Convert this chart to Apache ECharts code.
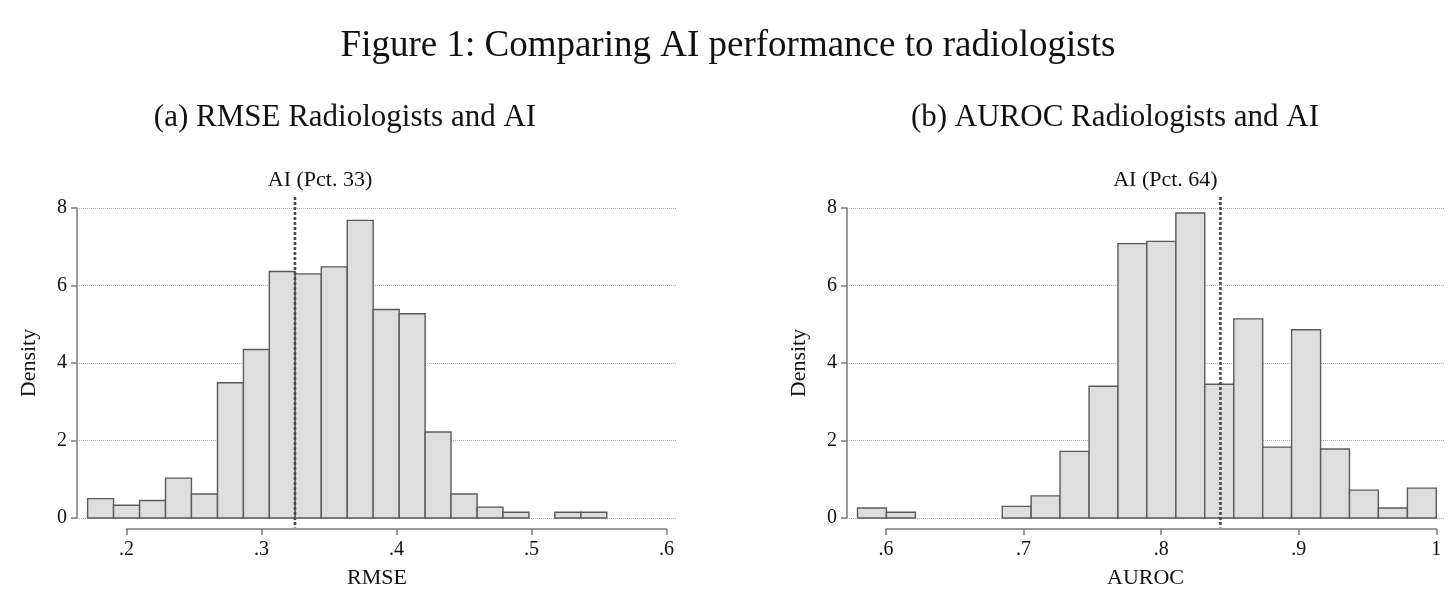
<!DOCTYPE html>
<html>
<head>
<meta charset="utf-8">
<title>Figure 1</title>
<script src="https://cdn.jsdelivr.net/npm/echarts@6/dist/echarts.min.js"></script>
<style>
  html, body { margin: 0; padding: 0; background: #fff; }
  #chart { width: 1456px; height: 606px; }
</style>
</head>
<body>
<div id="chart"></div>
<script>
// histogram bins (edges, then density per bin)
const rmseEdges = [0.1712, 0.1904, 0.2097, 0.2289, 0.2481, 0.2674, 0.2866, 0.3058, 0.3250, 0.3443,
                   0.3635, 0.3827, 0.4020, 0.4212, 0.4404, 0.4597, 0.4789, 0.4981, 0.5173, 0.5366, 0.5558];
const rmseDensity = [0.50, 0.33, 0.45, 1.03, 0.62, 3.49, 4.35, 6.36, 6.30, 6.48,
                     7.68, 5.38, 5.27, 2.22, 0.62, 0.28, 0.15, 0, 0.15, 0.15];

const aurocEdges = [0.5793, 0.6003, 0.6214, 0.6424, 0.6634, 0.6845, 0.7055, 0.7265, 0.7476, 0.7686,
                    0.7896, 0.8107, 0.8317, 0.8528, 0.8738, 0.8948, 0.9159, 0.9369, 0.9579, 0.9790, 1.0000];
const aurocDensity = [0.26, 0.15, 0, 0, 0, 0.30, 0.57, 1.72, 3.40, 7.08,
                      7.14, 7.87, 3.45, 5.14, 1.83, 4.86, 1.78, 0.72, 0.26, 0.77];

// where the AI model sits
const aiRmse = 0.3248;
const aiAuroc = 0.8431;
const aiRmseLabel = 'AI (Pct. 33)';
const aiAurocLabel = 'AI (Pct. 64)';

const serif = '"Liberation Serif", "Times New Roman", serif';
const ink = '#111';
const axisGrey = '#7b7b7b';

function toBins(edges, dens) {
    return dens.map((d, i) => [edges[i], edges[i + 1], d]);
}

function renderBar(params, api) {
    const h = api.value(2);
    if (!h) return null;
    const p0 = api.coord([api.value(0), h]);
    const p1 = api.coord([api.value(1), 0]);
    return {
        type: 'rect',
        shape: { x: p0[0], y: p0[1], width: p1[0] - p0[0], height: p1[1] - p0[1] },
        style: { fill: '#dedede', stroke: '#5a5a5a', lineWidth: 1.4 }
    };
}

function aiMarker(text, dx) {
    return function (params, api) {
        const x = api.value(0);
        const top = api.coord([x, 8]);
        const bottom = api.coord([x, 0]);
        return {
            type: 'group',
            children: [
                {
                    type: 'line',
                    shape: { x1: top[0], y1: top[1] - 11, x2: top[0], y2: bottom[1] + 9.5 },
                    style: { stroke: '#4a4a4a', lineWidth: 2.6, lineDash: [3, 2] }
                },
                {
                    type: 'text',
                    x: top[0] + dx,
                    y: top[1] - 28,
                    style: {
                        text: text, font: '22px ' + serif, fill: ink,
                        align: 'center', verticalAlign: 'middle',
                        textAlign: 'center', textVerticalAlign: 'middle'
                    }
                }
            ]
        };
    };
}

function tickFmt(v) {
    return v === 1 ? '1' : String(+v.toFixed(2)).replace(/^0/, '');
}

// y axis with dotted grid, shared look for both panels
function densityAxis(gridIndex) {
    return {
        type: 'value', gridIndex: gridIndex, min: 0, max: 8, interval: 2,
        name: 'Density', nameLocation: 'middle', nameGap: 37,
        nameTextStyle: { fontSize: 22, color: ink, fontFamily: serif },
        axisLine: { show: true, onZero: false, lineStyle: { color: axisGrey, width: 1.5 } },
        axisTick: { show: true, length: 6, lineStyle: { color: axisGrey, width: 1.5 } },
        axisLabel: { fontSize: 20, color: ink, fontFamily: serif, margin: 10 },
        splitLine: { show: true, lineStyle: { type: 'dotted', color: '#b0b0b0', width: 1 } }
    };
}

// plot-region x axis: carries only the title, centred on the plot region
function nameAxis(gridIndex, min, max, name) {
    return {
        type: 'value', gridIndex: gridIndex, min: min, max: max, offset: 11,
        name: name, nameLocation: 'middle', nameGap: 38,
        nameTextStyle: { fontSize: 22, color: ink, fontFamily: serif },
        axisLine: { show: false, onZero: false },
        axisTick: { show: false },
        axisLabel: { show: false },
        splitLine: { show: false }
    };
}

// tick axis spanning only the labelled range, dropped below the plot
function tickAxis(gridIndex, min, max) {
    return {
        type: 'value', gridIndex: gridIndex, min: min, max: max, interval: 0.1, offset: 11,
        axisLine: { show: true, onZero: false, lineStyle: { color: axisGrey, width: 1.5 } },
        axisTick: { show: true, length: 6, lineStyle: { color: axisGrey, width: 1.5 } },
        axisLabel: { fontSize: 20, color: ink, fontFamily: serif, margin: 11, formatter: tickFmt },
        splitLine: { show: false }
    };
}

const chart = echarts.init(document.getElementById('chart'));

const option = {
    animation: false,
    backgroundColor: '#fff',
    textStyle: { fontFamily: serif },
    graphic: [
        { type: 'text', x: 728, y: 46,
          style: { text: 'Figure 1: Comparing AI performance to radiologists', font: '37px ' + serif, fill: ink,
                   align: 'center', verticalAlign: 'middle', textAlign: 'center', textVerticalAlign: 'middle' } },
        { type: 'text', x: 345, y: 118,
          style: { text: '(a) RMSE Radiologists and AI', font: '31px ' + serif, fill: ink,
                   align: 'center', verticalAlign: 'middle', textAlign: 'center', textVerticalAlign: 'middle' } },
        { type: 'text', x: 1115, y: 118,
          style: { text: '(b) AUROC Radiologists and AI', font: '31px ' + serif, fill: ink,
                   align: 'center', verticalAlign: 'middle', textAlign: 'center', textVerticalAlign: 'middle' } }
    ],
    grid: [
        { left: 77, top: 208, width: 600, height: 310 },     // (a) plot region
        { left: 126.5, top: 208, width: 540, height: 310 },  // (a) tick axis .2 - .6
        { left: 847, top: 208, width: 597, height: 310 },    // (b) plot region
        { left: 886, top: 208, width: 550.3, height: 310 }   // (b) tick axis .6 - 1
    ],
    xAxis: [
        nameAxis(0, 0.16333, 0.60778, 'RMSE'),
        tickAxis(1, 0.2, 0.6),
        nameAxis(2, 0.57165, 1.0056, 'AUROC'),
        tickAxis(3, 0.6, 1.0)
    ],
    yAxis: [
        densityAxis(0),
        { type: 'value', gridIndex: 1, min: 0, max: 8, show: false },
        densityAxis(2),
        { type: 'value', gridIndex: 3, min: 0, max: 8, show: false }
    ],
    series: [
        {
            type: 'custom', name: 'RMSE', xAxisIndex: 0, yAxisIndex: 0,
            renderItem: renderBar, encode: { x: [0, 1], y: 2 },
            data: toBins(rmseEdges, rmseDensity), silent: true
        },
        {
            type: 'custom', name: 'AI RMSE', xAxisIndex: 0, yAxisIndex: 0, z: 5,
            renderItem: aiMarker(aiRmseLabel, 25), encode: { x: 0, y: 1 },
            data: [[aiRmse, 0]], silent: true
        },
        {
            type: 'custom', name: 'AUROC', xAxisIndex: 2, yAxisIndex: 2,
            renderItem: renderBar, encode: { x: [0, 1], y: 2 },
            data: toBins(aurocEdges, aurocDensity), silent: true
        },
        {
            type: 'custom', name: 'AI AUROC', xAxisIndex: 2, yAxisIndex: 2, z: 5,
            renderItem: aiMarker(aiAurocLabel, -55), encode: { x: 0, y: 1 },
            data: [[aiAuroc, 0]], silent: true
        }
    ]
};

chart.setOption(option);
</script>
</body>
</html>
